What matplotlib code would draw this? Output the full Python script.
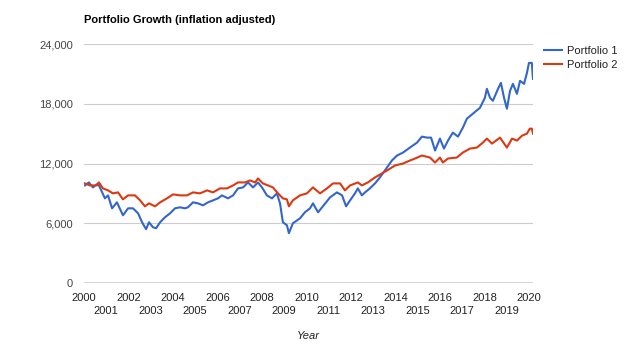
import matplotlib.pyplot as plt
from matplotlib.ticker import FuncFormatter

plt.rcParams['font.family'] = ['Liberation Sans', 'DejaVu Sans']

# Portfolio 1 (blue), years and values
p1_years = [2000.04, 2000.22, 2000.40, 2000.63, 2000.94, 2001.08, 2001.26, 2001.48, 2001.75, 2001.98,
            2002.20, 2002.43, 2002.61, 2002.79, 2002.92, 2003.10, 2003.24, 2003.42, 2003.64, 2003.87,
            2004.09, 2004.31, 2004.54, 2004.67, 2004.90, 2005.12, 2005.35, 2005.57, 2005.80, 2006.02,
            2006.20, 2006.47, 2006.70, 2006.92, 2007.15, 2007.37, 2007.60, 2007.82, 2008.00, 2008.22,
            2008.45, 2008.67, 2008.81, 2008.94, 2009.12, 2009.21, 2009.39, 2009.71, 2009.93, 2010.16,
            2010.29, 2010.52, 2010.70, 2011.06, 2011.37, 2011.60, 2011.78, 2011.96, 2012.18, 2012.31,
            2012.49, 2012.63, 2012.85, 2013.08, 2013.30, 2013.62, 2013.84, 2014.07, 2014.34, 2014.65,
            2014.97, 2015.19, 2015.42, 2015.60, 2015.78, 2016.00, 2016.18, 2016.36, 2016.58, 2016.81,
            2017.03, 2017.21, 2017.48, 2017.80, 2018.02, 2018.11, 2018.25, 2018.38, 2018.61, 2018.74,
            2018.88, 2019.01, 2019.15, 2019.28, 2019.46, 2019.60, 2019.78, 2019.91, 2020.00, 2020.13,
            2020.18]
p1_values = [9800, 10100, 9600, 10000, 8500, 8800, 7500, 8100, 6800, 7500,
             7500, 7000, 6100, 5400, 6100, 5600, 5500, 6100, 6600, 7000,
             7500, 7600, 7500, 7600, 8100, 8000, 7800, 8100, 8300, 8500,
             8800, 8500, 8800, 9500, 9600, 10100, 9600, 10100, 9600, 8800,
             8500, 9000, 8000, 6100, 5800, 5000, 6000, 6500, 7100, 7500,
             8000, 7100, 7600, 8600, 9100, 8800, 7700, 8300, 9000, 9500,
             8800, 9100, 9500, 10000, 10600, 11600, 12300, 12800, 13100, 13600,
             14100, 14700, 14600, 14600, 13300, 14500, 13500, 14300, 15100, 14700,
             15600, 16500, 17000, 17600, 18600, 19500, 18600, 18300, 19500, 20100,
             18600, 17500, 19300, 20000, 19000, 20300, 20000, 21100, 22100, 22100,
             20500]

# Portfolio 2 (red)
p2_years = [2000.04, 2000.27, 2000.58, 2000.67, 2000.85, 2001.08, 2001.30, 2001.53, 2001.75, 2001.98,
            2002.29, 2002.52, 2002.74, 2002.92, 2003.19, 2003.42, 2003.73, 2004.00, 2004.31, 2004.63,
            2004.90, 2005.21, 2005.53, 2005.80, 2006.11, 2006.43, 2006.70, 2006.92, 2007.24, 2007.46,
            2007.69, 2007.82, 2008.04, 2008.27, 2008.49, 2008.72, 2008.94, 2009.12, 2009.21, 2009.39,
            2009.71, 2010.02, 2010.29, 2010.61, 2010.92, 2011.19, 2011.51, 2011.73, 2011.96, 2012.31,
            2012.49, 2012.76, 2013.08, 2013.39, 2013.62, 2013.98, 2014.34, 2014.65, 2014.88, 2015.19,
            2015.55, 2015.78, 2016.00, 2016.13, 2016.36, 2016.76, 2017.03, 2017.35, 2017.66, 2017.93,
            2018.11, 2018.34, 2018.70, 2019.01, 2019.24, 2019.46, 2019.69, 2019.91, 2020.04, 2020.13,
            2020.18]
p2_values = [10000, 9800, 9800, 10100, 9500, 9300, 9000, 9100, 8400, 8800,
             8800, 8300, 7700, 8000, 7700, 8100, 8500, 8900, 8800, 8800,
             9100, 9000, 9300, 9100, 9500, 9500, 9800, 10100, 10100, 10300,
             10100, 10500, 10000, 9800, 9600, 9000, 8500, 8400, 7700, 8300,
             8800, 9000, 9600, 9000, 9500, 10000, 10000, 9300, 9800, 10100,
             9800, 10100, 10600, 11000, 11300, 11800, 12000, 12300, 12500, 12800,
             12600, 12100, 12600, 12100, 12500, 12600, 13100, 13500, 13600, 14100,
             14500, 14000, 14600, 13600, 14500, 14300, 14800, 15000, 15500, 15500,
             15000]

even_years = list(range(2000, 2021, 2))
odd_years = list(range(2001, 2020, 2))
y_ticks = [0, 6000, 12000, 18000, 24000]

fig = plt.figure(figsize=(6.27, 3.52), dpi=100)
ax = fig.add_axes([0.134, 0.196, 0.716, 0.679])

ax.plot(p1_years, p1_values, color='#3366CC', lw=1.5, label='Portfolio 1')
ax.plot(p2_years, p2_values, color='#DC3912', lw=1.5, label='Portfolio 2')

ax.set_xlim(2000, 2020.18)
ax.set_ylim(0, 24000)
ax.set_yticks(y_ticks)
ax.yaxis.set_major_formatter(FuncFormatter(lambda v, p: f'{int(v):,}'))
ax.grid(axis='y', color='#cccccc', lw=0.8)
ax.axhline(0, color='#333333', lw=1)
ax.set_axisbelow(True)
for s in ax.spines.values():
    s.set_visible(False)

# two rows of year labels
ax.set_xticks(even_years)
ax.set_xticks(odd_years, minor=True)
ax.set_xticklabels([str(y) for y in even_years])
ax.set_xticklabels([str(y) for y in odd_years], minor=True)
ax.tick_params(axis='x', which='major', length=0, pad=7, labelsize=8, labelcolor='#222222')
ax.tick_params(axis='x', which='minor', length=0, pad=16.5, labelsize=8, labelcolor='#222222')
ax.tick_params(axis='y', length=0, pad=8, labelsize=8, labelcolor='#444444')

ax.set_xlabel('Year', style='italic', fontsize=8, color='#222222', labelpad=11)

fig.text(0.134, 0.943, 'Portfolio Growth (inflation adjusted)', fontsize=8,
         fontweight='bold', color='#000000', ha='left', va='center')

ax.legend(loc='upper left', bbox_to_anchor=(1.02, 1.0), frameon=False, fontsize=8,
          borderaxespad=0, borderpad=0.2, handlelength=1.6, handletextpad=0.45,
          labelspacing=0.35, labelcolor='#222222')

fig.savefig('out.png', dpi=100)
